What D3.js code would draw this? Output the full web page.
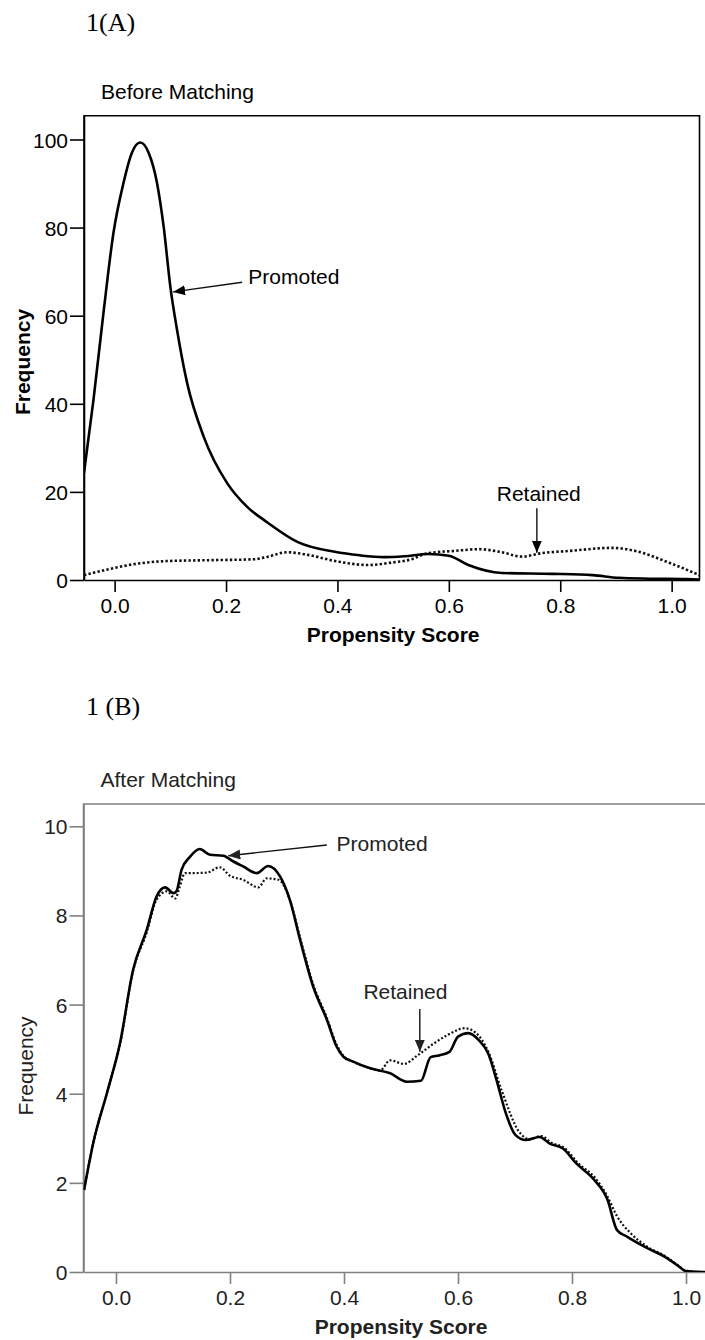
<!DOCTYPE html>
<html>
<head>
<meta charset="utf-8">
<script src="https://cdn.jsdelivr.net/npm/d3@7"></script>
<style>
  body { margin: 0; background: #fff; }
  svg { display: block; }
  .tick text { font-family: "Liberation Sans", Arial, sans-serif; font-size: 21px; }
</style>
</head>
<body>
<div id="chart"></div>
<script>
// Panel A: before matching
const promotedA_x = [-0.055, -0.038, -0.020, -0.002, 0.016, 0.031, 0.046, 0.061, 0.076, 0.088, 0.100, 0.112, 0.130, 0.160, 0.202, 0.238, 0.275, 0.329, 0.395, 0.440, 0.484, 0.520, 0.563, 0.600, 0.635, 0.695, 0.785, 0.858, 0.905, 0.960, 1.026, 1.050];
const promotedA_y = [24.3, 40.9, 60.7, 78.9, 90.2, 97.0, 99.3, 97.0, 90.2, 80.2, 66.6, 56.8, 44.8, 32.5, 22.0, 16.6, 13.0, 8.6, 6.4, 5.6, 5.2, 5.4, 5.9, 5.5, 3.4, 1.6, 1.4, 1.1, 0.5, 0.3, 0.2, 0.1];
const retainedA_x = [-0.055, -0.002, 0.046, 0.094, 0.172, 0.250, 0.275, 0.310, 0.347, 0.400, 0.455, 0.500, 0.530, 0.563, 0.610, 0.654, 0.695, 0.731, 0.767, 0.816, 0.893, 0.935, 0.996, 1.050];
const retainedA_y = [1.1, 2.7, 3.8, 4.3, 4.5, 4.7, 5.3, 6.3, 5.7, 4.2, 3.4, 4.0, 4.6, 6.1, 6.6, 7.0, 6.3, 5.3, 6.1, 6.6, 7.3, 6.6, 3.9, 1.1];

// Panel B: after matching
const promotedB_x = [-0.056, -0.040, -0.016, 0.007, 0.030, 0.054, 0.071, 0.086, 0.101, 0.106, 0.115, 0.130, 0.147, 0.165, 0.188, 0.206, 0.223, 0.247, 0.267, 0.288, 0.305, 0.323, 0.346, 0.370, 0.387, 0.399, 0.416, 0.446, 0.481, 0.510, 0.535, 0.552, 0.567, 0.585, 0.600, 0.618, 0.636, 0.653, 0.668, 0.683, 0.701, 0.719, 0.743, 0.761, 0.784, 0.808, 0.838, 0.862, 0.879, 0.897, 0.933, 0.963, 0.985, 1.000, 1.030, 1.057];
const promotedB_y = [1.84, 2.89, 4.01, 5.13, 6.78, 7.68, 8.42, 8.63, 8.50, 8.54, 9.02, 9.32, 9.49, 9.36, 9.34, 9.21, 9.10, 8.95, 9.11, 8.87, 8.35, 7.45, 6.40, 5.66, 5.06, 4.83, 4.72, 4.57, 4.46, 4.27, 4.29, 4.82, 4.86, 4.94, 5.28, 5.36, 5.21, 4.90, 4.29, 3.60, 3.07, 2.96, 3.03, 2.88, 2.77, 2.43, 2.08, 1.63, 0.94, 0.79, 0.53, 0.34, 0.15, 0.02, 0, 0];
const retainedB_x = [-0.056, -0.040, -0.016, 0.007, 0.030, 0.054, 0.071, 0.089, 0.104, 0.112, 0.121, 0.136, 0.159, 0.182, 0.200, 0.223, 0.250, 0.264, 0.285, 0.305, 0.323, 0.346, 0.370, 0.387, 0.399, 0.416, 0.446, 0.463, 0.481, 0.505, 0.529, 0.558, 0.582, 0.612, 0.630, 0.653, 0.677, 0.707, 0.725, 0.746, 0.764, 0.787, 0.810, 0.840, 0.862, 0.879, 0.903, 0.933, 0.963, 0.985, 1.000, 1.030, 1.057];
const retainedB_y = [1.84, 2.89, 4.01, 5.10, 6.75, 7.62, 8.35, 8.54, 8.38, 8.65, 8.95, 8.95, 8.96, 9.08, 8.89, 8.80, 8.63, 8.83, 8.80, 8.35, 7.50, 6.45, 5.70, 5.10, 4.85, 4.72, 4.57, 4.52, 4.75, 4.67, 4.86, 5.13, 5.32, 5.47, 5.38, 4.95, 4.06, 3.15, 2.98, 3.05, 2.90, 2.78, 2.45, 2.12, 1.70, 1.25, 0.87, 0.56, 0.36, 0.16, 0.03, 0, 0];

const xTicks = [0, 0.2, 0.4, 0.6, 0.8, 1.0];
const yTicksA = [0, 20, 40, 60, 80, 100];
const yTicksB = [0, 2, 4, 6, 8, 10];

// annotation arrows in data units: [label, textX, textY, fromX, fromY, toX, toY]
const notesA = [
  ["Promoted", 0.240, 67.3, 0.229, 67.6, 0.105, 65.4],
  ["Retained", 0.686, 18.0, 0.758, 16.3, 0.758, 6.2]
];
const notesB = [
  ["Promoted", 0.387, 9.45, 0.370, 9.58, 0.197, 9.34],
  ["Retained", 0.434, 6.12, 0.533, 5.90, 0.533, 4.94]
];

const W = 705, H = 1340;
const sans = "'Liberation Sans', Arial, sans-serif";

const svg = d3.select("#chart").append("svg")
  .attr("width", W).attr("height", H);

const defs = svg.append("defs");
function addMarker(id, color) {
  defs.append("marker")
    .attr("id", id)
    .attr("markerUnits", "userSpaceOnUse")
    .attr("markerWidth", 12).attr("markerHeight", 10)
    .attr("refX", 12).attr("refY", 5)
    .attr("orient", "auto")
    .append("path")
    .attr("d", "M0,0 L12,5 L0,10 Z")
    .attr("fill", color);
}
addMarker("arrA", "#000");
addMarker("arrB", "#222");

function zip(xs, ys) { return xs.map((x, i) => [x, ys[i]]); }

function drawPanel(p) {
  const x = d3.scaleLinear().domain(p.xDomain).range([p.left, p.right]);
  const y = d3.scaleLinear().domain(p.yDomain).range([p.bottom, p.top]);
  const g = svg.append("g");

  // panel label and subtitle
  g.append("text")
    .attr("x", 86).attr("y", p.labelY)
    .attr("font-family", "'Liberation Serif', 'Times New Roman', serif")
    .attr("font-size", 26).attr("fill", "#000")
    .text(p.label);
  g.append("text")
    .attr("x", p.left + 17).attr("y", p.top - 17)
    .attr("font-family", sans).attr("font-size", 21).attr("fill", p.textColor)
    .text(p.title);

  // frame
  g.append("path")
    .attr("d", `M${p.left},${p.bottom} V${p.top} H${p.right} V${p.bottom}`)
    .attr("fill", "none").attr("stroke", p.axisColor).attr("stroke-width", 1.6);

  const xAxis = g.append("g")
    .attr("transform", `translate(0,${p.bottom})`)
    .call(d3.axisBottom(x).tickValues(xTicks).tickFormat(d3.format(".1f"))
      .tickSizeInner(12).tickSizeOuter(0).tickPadding(6));
  const yAxis = g.append("g")
    .attr("transform", `translate(${p.left},0)`)
    .call(d3.axisLeft(y).tickValues(p.yTicks).tickFormat(d3.format("d"))
      .tickSizeInner(14).tickSizeOuter(0).tickPadding(2));
  [xAxis, yAxis].forEach(a => {
    a.select(".domain").attr("stroke", p.axisColor).attr("stroke-width", 1.6);
    a.selectAll(".tick line").attr("stroke", p.axisColor).attr("stroke-width", 1.6);
    a.selectAll(".tick text").attr("fill", p.textColor);
  });
  yAxis.selectAll(".tick text").attr("dy", "0.36em");

  // axis titles
  g.append("text")
    .attr("x", x(0.5)).attr("y", p.bottom + 62)
    .attr("text-anchor", "middle")
    .attr("font-family", sans).attr("font-size", 21).attr("font-weight", "bold")
    .attr("fill", p.textColor)
    .text("Propensity Score");
  g.append("text")
    .attr("transform", `translate(${p.yTitleX},${p.yTitleY}) rotate(-90)`)
    .attr("text-anchor", "middle")
    .attr("font-family", sans).attr("font-size", 21).attr("font-weight", p.yTitleWeight)
    .attr("fill", p.textColor)
    .text("Frequency");

  const line = d3.line()
    .x(d => x(d[0])).y(d => y(d[1]))
    .curve(d3.curveMonotoneX);

  const clipId = "clip" + p.id;
  defs.append("clipPath").attr("id", clipId)
    .append("rect")
    .attr("x", p.left).attr("y", p.top)
    .attr("width", p.right - p.left).attr("height", p.bottom - p.top);

  const plot = g.append("g").attr("clip-path", `url(#${clipId})`);
  plot.append("path")
    .datum(zip(p.retX, p.retY))
    .attr("d", line)
    .attr("fill", "none").attr("stroke", "#111")
    .attr("stroke-width", p.dotWidth)
    .attr("stroke-dasharray", p.dash);
  plot.append("path")
    .datum(zip(p.proX, p.proY))
    .attr("d", line)
    .attr("fill", "none").attr("stroke", "#000")
    .attr("stroke-width", 2.6)
    .attr("stroke-linejoin", "round");

  // annotations
  p.notes.forEach(n => {
    g.append("line")
      .attr("x1", x(n[3])).attr("y1", y(n[4]))
      .attr("x2", x(n[5])).attr("y2", y(n[6]))
      .attr("stroke", "#111").attr("stroke-width", 1.4)
      .attr("marker-end", `url(#${p.marker})`);
    g.append("text")
      .attr("x", x(n[1])).attr("y", y(n[2]))
      .attr("font-family", sans).attr("font-size", 21).attr("fill", p.textColor)
      .text(n[0]);
  });
}

drawPanel({
  id: "A", label: "1(A)", labelY: 31, title: "Before Matching",
  left: 84, right: 699.5, top: 115.7, bottom: 580,
  xDomain: [-0.055, 1.05], yDomain: [0, 105.4], yTicks: yTicksA,
  axisColor: "#000", textColor: "#000",
  yTitleX: 30, yTitleY: 362, yTitleWeight: "bold",
  proX: promotedA_x, proY: promotedA_y, retX: retainedA_x, retY: retainedA_y,
  dotWidth: 2.6, dash: "2.4,2.2", notes: notesA, marker: "arrA"
});

drawPanel({
  id: "B", label: "1 (B)", labelY: 715, title: "After Matching",
  left: 83.5, right: 718.5, top: 804, bottom: 1272,
  xDomain: [-0.057, 1.057], yDomain: [0, 10.5], yTicks: yTicksB,
  axisColor: "#808080", textColor: "#222",
  yTitleX: 33, yTitleY: 1066, yTitleWeight: "normal",
  proX: promotedB_x, proY: promotedB_y, retX: retainedB_x, retY: retainedB_y,
  dotWidth: 2.2, dash: "2,2", notes: notesB, marker: "arrB"
});
</script>
</body>
</html>
